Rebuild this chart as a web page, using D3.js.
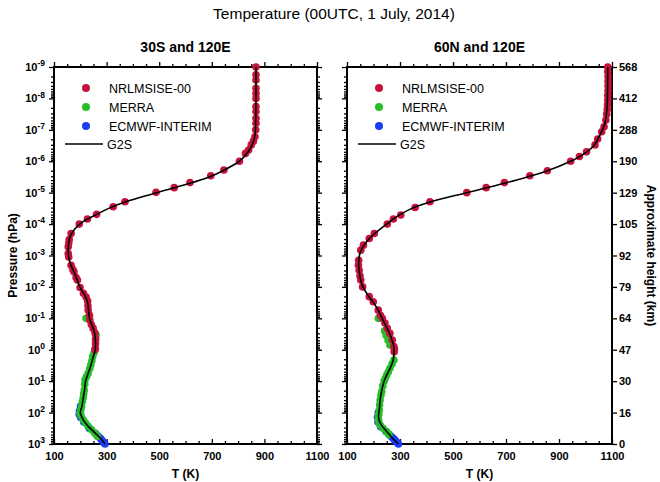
<!DOCTYPE html>
<html>
<head>
<meta charset="utf-8">
<script src="https://cdn.jsdelivr.net/npm/d3@7"></script>
<style>
body { margin: 0; background: #fff; }
text { font-family: "Liberation Sans", Arial, Helvetica, sans-serif; }
</style>
</head>
<body>
<div id="chart"></div>
<script>
// axis values
var tempTicks = [100, 300, 500, 700, 900, 1100];
var pressExps = [-9, -8, -7, -6, -5, -4, -3, -2, -1, 0, 1, 2, 3];
var heightLabels = ["568", "412", "288", "190", "129", "105", "92", "79", "64", "47", "30", "16", "0"];
var seriesNames = ["NRLMSISE-00", "MERRA", "ECMWF-INTERIM", "G2S"];
var panelTitles = ["30S and 120E", "60N and 120E"];

// each row: [log10 pressure (hPa), temperature (K)]
// 30S and 120E
var southNrl = [[-9.0,868],[-8.75,868],[-8.59,868],[-8.32,868],[-8.16,868],[-8.0,868],[-7.74,868],[-7.58,868],
  [-7.37,868],[-7.21,868],[-7.0,867],[-6.78,864],[-6.64,858],[-6.52,850],[-6.36,840],[-6.25,828],[-6.0,805],
  [-5.72,746],[-5.54,696],[-5.32,617],[-5.16,557],[-5.01,488],[-4.71,370],[-4.55,325],[-4.31,262],[-4.16,227],
  [-4.0,196],[-3.70,165],[-3.51,158],[-3.40,156],[-3.28,154],[-3.06,154],[-2.95,156],[-2.69,165],[-2.55,172],
  [-2.48,176],[-2.30,184],[-2.22,189],[-1.98,199],[-1.80,212],[-1.68,222],[-1.55,228],[-1.40,229],[-1.26,230],
  [-1.10,235],[-0.95,236],[-0.80,242],[-0.68,249],[-0.53,256],[-0.35,258],[-0.20,258],[-0.05,257],[0.0,256]];
var southMerra = [[-1.0,222],[-0.47,260],[-0.3,258],[0.1,252],[0.22,247],[0.35,244],[0.48,240],[0.6,236],
  [0.75,230],[0.85,224],[0.96,218],[1.1,217],[1.28,215],[1.4,213],[1.53,211],[1.65,208],[1.81,205],[1.92,202],
  [2.02,199],[2.1,203],[2.23,211],[2.33,220],[2.44,230],[2.55,243],[2.66,256],[2.75,265]];
var southEcmwf = [[1.8,201],[1.95,197],[2.05,196],[2.15,201],[2.3,213],[2.5,234],[2.66,257],[2.75,268],
  [2.82,276],[2.87,281],[2.92,286],[2.96,290],[3.0,294]];
var southG2s = [[-9,868],[-8,868],[-7,866],[-6.7,861],[-6.5,852],[-6.3,838],[-6,805],[-5.7,742],[-5.5,690],
  [-5,490],[-4.7,370],[-4.5,308],[-4.3,260],[-4.1,215],[-4,198],[-3.7,167],[-3.5,158],[-3.2,154],[-3,155],
  [-2.7,164],[-2.5,175],[-2.2,189],[-2,198],[-1.7,219],[-1.5,228],[-1.2,232],[-1,235],[-0.7,248],[-0.5,255],
  [-0.2,258],[0,257],[0.2,250],[0.5,240],[0.75,230],[1,220],[1.3,216],[1.5,212],[1.8,206],[2,200],[2.2,209],
  [2.4,226],[2.6,250],[2.8,275],[3,294]];

// 60N and 120E
var northNrl = [[-9.0,1084],[-8.85,1084],[-8.7,1085],[-8.55,1085],[-8.4,1085],[-8.25,1085],[-8.1,1084],
  [-7.95,1084],[-7.8,1083],[-7.65,1082],[-7.5,1080],[-7.31,1077],[-7.1,1070],[-6.94,1061],[-6.71,1046],
  [-6.52,1036],[-6.3,1004],[-6.15,977],[-6.0,944],[-5.7,856],[-5.54,790],[-5.32,694],[-5.16,625],[-5.0,552],
  [-4.71,413],[-4.53,357],[-4.29,303],[-4.16,275],[-4.0,252],[-3.70,203],[-3.54,184],[-3.33,162],[-3.17,152],
  [-2.85,144],[-2.69,143],[-2.53,146],[-2.35,149],[-2.22,152],[-2.0,159],[-1.69,184],[-1.53,199],[-1.26,218],
  [-1.1,226],[-1.0,233],[-0.85,243],[-0.68,252],[-0.52,262],[-0.31,271],[-0.1,277],[-0.02,279],[0.06,278]];
var northMerra = [[-1.0,218],[-0.6,242],[-0.45,248],[-0.3,255],[-0.15,262],[0.33,277],[0.45,270],[0.59,262],
  [0.7,256],[0.8,250],[0.9,245],[1.0,240],[1.15,235],[1.33,231],[1.45,228],[1.6,225],[1.75,223],[1.92,222],
  [2.05,220],[2.18,218],[2.28,220],[2.4,225],[2.5,236],[2.61,250],[2.7,258]];
var northEcmwf = [[2.0,218],[2.15,215],[2.3,217],[2.45,227],[2.6,247],[2.7,259],[2.77,268],[2.83,275],
  [2.87,280],[2.92,285],[2.96,290],[3.0,294]];
var northG2s = [[-9,1084],[-8,1083],[-7.5,1079],[-7.2,1073],[-7,1064],[-6.7,1046],[-6.5,1032],[-6.3,1005],
  [-6.1,968],[-6,944],[-5.7,856],[-5.5,780],[-5.3,694],[-5,552],[-4.7,413],[-4.5,345],[-4.3,300],[-4.1,265],
  [-4,250],[-3.7,205],[-3.5,180],[-3.3,162],[-3.1,150],[-2.9,145],[-2.7,144],[-2.5,146],[-2.2,152],[-2,160],
  [-1.7,182],[-1.5,200],[-1.3,215],[-1,233],[-0.7,250],[-0.5,262],[-0.3,270],[-0.1,277],[0,278],[0.3,275],
  [0.6,262],[0.8,250],[1,240],[1.3,231],[1.6,225],[1.9,222],[2.1,219],[2.25,221],[2.4,230],[2.6,250],
  [2.8,270],[3,294]];

var colors = ["#c8123e", "#26bf2a", "#1a3cf5"];

var svg = d3.select("#chart").append("svg")
  .attr("width", 660)
  .attr("height", 482);

// main title
svg.append("text")
  .attr("x", 334).attr("y", 19)
  .attr("text-anchor", "middle")
  .style("font-size", "15.5px")
  .text("Temperature (00UTC, 1 July, 2014)");

var plotTop = 67, plotHeight = 377;

var y = d3.scaleLog().domain([1e-9, 1e3]).range([0, plotHeight]);

var majorP = pressExps.map(function (e) { return Math.pow(10, e); });
var minorP = [];
pressExps.slice(0, -1).forEach(function (e) {
  for (var k = 2; k < 10; k++) minorP.push(k * Math.pow(10, e));
});
var minorT = d3.range(150, 1100, 50).filter(function (t) { return (t - 100) % 200 != 0; });

function pv(d) { return Math.pow(10, d[0]); }

function drawPanel(left, width, idx, nrl, merra, ecmwf, g2s) {
  var height = plotHeight;
  var g = svg.append("g").attr("transform", "translate(" + left + "," + plotTop + ")");
  var x = d3.scaleLinear().domain([100, 1100]).range([0, width]);

  g.append("text")
    .attr("x", width / 2).attr("y", -15)
    .attr("text-anchor", "middle")
    .style("font-size", "14px").style("font-weight", "bold")
    .text(panelTitles[idx]);

  // bottom axis, ticks pointing in
  g.append("g").attr("class", "axis").attr("transform", "translate(0," + height + ")")
    .call(d3.axisBottom(x).tickValues(tempTicks).tickSize(-5).tickPadding(8).tickFormat(d3.format("d")));
  g.append("g").attr("class", "axis").attr("transform", "translate(0," + height + ")")
    .call(d3.axisBottom(x).tickValues(minorT).tickSize(-3).tickFormat(""));
  // top axis
  g.append("g").attr("class", "axis")
    .call(d3.axisTop(x).tickValues(tempTicks).tickSize(5).tickFormat(""));
  g.append("g").attr("class", "axis")
    .call(d3.axisTop(x).tickValues(minorT).tickSize(3).tickFormat(""));

  // left axis
  var la = g.append("g").attr("class", "axis")
    .call(d3.axisLeft(y).tickValues(majorP).tickSize(5).tickPadding(4).tickFormat(""));
  g.append("g").attr("class", "axis")
    .call(d3.axisLeft(y).tickValues(minorP).tickSize(3).tickFormat(""));
  if (idx == 0) {
    la.selectAll(".tick text").each(function (d, i) {
      var t = d3.select(this);
      t.append("tspan").text("10");
      t.append("tspan").attr("dy", "-0.55em").style("font-size", "8.5px").text(pressExps[i]);
    });
  }

  // right axis
  if (idx == 0) {
    g.append("g").attr("class", "axis").attr("transform", "translate(" + width + ",0)")
      .call(d3.axisRight(y).tickValues(majorP).tickSize(5).tickFormat(""));
    g.append("g").attr("class", "axis").attr("transform", "translate(" + width + ",0)")
      .call(d3.axisRight(y).tickValues(minorP).tickSize(3).tickFormat(""));
  } else {
    g.append("g").attr("class", "axis").attr("transform", "translate(" + width + ",0)")
      .call(d3.axisRight(y).tickValues(majorP).tickSize(5).tickPadding(2)
        .tickFormat(function (d, i) { return heightLabels[i]; }));
  }

  g.selectAll(".axis .domain").remove();
  g.selectAll(".axis line").attr("stroke", "#000").attr("stroke-width", 1.3);
  g.selectAll(".axis text")
    .style("font-size", "11px").style("font-weight", "bold")
    .style("font-family", "'Liberation Sans', Arial, sans-serif").attr("fill", "#000");

  // frame
  g.append("rect")
    .attr("width", width).attr("height", height)
    .attr("fill", "none").attr("stroke", "#000").attr("stroke-width", 2);

  g.append("text")
    .attr("x", width / 2).attr("y", height + 34)
    .attr("text-anchor", "middle")
    .style("font-size", "12px").style("font-weight", "bold")
    .text("T (K)");

  // points: ECMWF, then MERRA, then NRLMSISE on top
  [ecmwf, merra, nrl].forEach(function (set, k) {
    g.append("g").selectAll("circle")
      .data(set)
      .enter().append("circle")
      .attr("cx", function (d) { return x(d[1]); })
      .attr("cy", function (d) { return y(pv(d)); })
      .attr("r", 3.8)
      .attr("fill", colors[2 - k]);
  });

  var line = d3.line()
    .x(function (d) { return x(d[1]); })
    .y(function (d) { return y(pv(d)); })
    .curve(d3.curveMonotoneY);
  g.append("path")
    .datum(g2s)
    .attr("d", line)
    .attr("fill", "none").attr("stroke", "#000").attr("stroke-width", 1.6);

  // legend
  var leg = g.append("g");
  [0, 1, 2].forEach(function (i) {
    leg.append("circle")
      .attr("cx", 32).attr("cy", 21 + i * 19)
      .attr("r", 4).attr("fill", colors[i]);
    leg.append("text")
      .attr("x", 55).attr("y", 25.5 + i * 19)
      .style("font-size", "12.5px")
      .text(seriesNames[i]);
  });
  leg.append("line")
    .attr("x1", 11).attr("x2", 49)
    .attr("y1", 77).attr("y2", 77)
    .attr("stroke", "#000").attr("stroke-width", 1.6);
  leg.append("text")
    .attr("x", 53).attr("y", 81.5)
    .style("font-size", "12.5px")
    .text(seriesNames[3]);
}

drawPanel(54, 263, 0, southNrl, southMerra, southEcmwf, southG2s);
drawPanel(347, 265, 1, northNrl, northMerra, northEcmwf, northG2s);

// axis titles
svg.append("text")
  .attr("transform", "translate(17," + (plotTop + plotHeight / 2) + ") rotate(-90)")
  .attr("text-anchor", "middle")
  .style("font-size", "12px").style("font-weight", "bold")
  .text("Pressure (hPa)");

svg.append("text")
  .attr("transform", "translate(647," + (plotTop + plotHeight / 2) + ") rotate(90)")
  .attr("text-anchor", "middle")
  .style("font-size", "12px").style("font-weight", "bold")
  .text("Approximate height (km)");
</script>
</body>
</html>
